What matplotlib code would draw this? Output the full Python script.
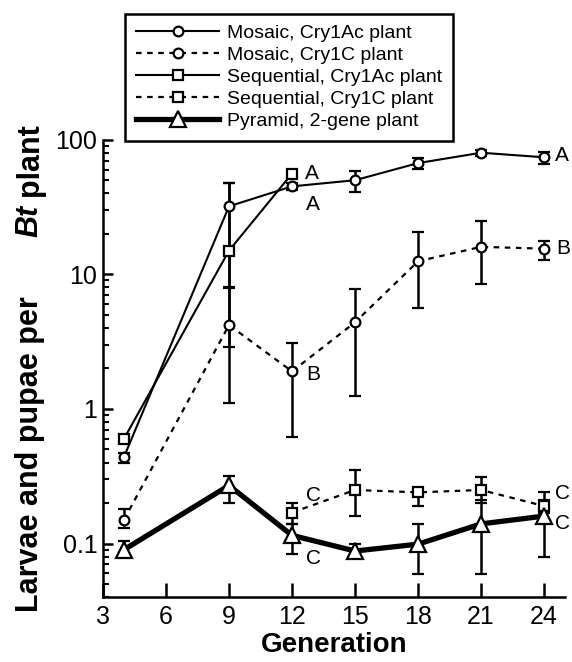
import matplotlib
matplotlib.use("Agg")
import matplotlib.pyplot as plt
from matplotlib.ticker import LogLocator, NullFormatter

plt.rcParams['font.family'] = ['Liberation Sans', 'DejaVu Sans']

# generations sampled
gens = [4, 9, 12, 15, 18, 21, 24]
seq_ac_gens = [4, 9, 12]
seq_c_gens = [12, 15, 18, 21, 24]

# Mosaic, Cry1Ac plant
mos_ac = [0.44, 32, 45, 50, 67, 80, 74]
mos_ac_lo = [0.40, 8.0, 42, 41, 61, 76, 66]
mos_ac_hi = [0.47, 48, 48, 59, 73, 84, 81]

# Mosaic, Cry1C plant
mos_c = [0.15, 4.2, 1.9, 4.4, 12.5, 16, 15.5]
mos_c_lo = [0.13, 1.1, 0.62, 1.25, 5.6, 8.4, 12.7]
mos_c_hi = [0.18, 7.9, 3.1, 7.8, 20.5, 25, 17.8]

# Sequential, Cry1Ac plant
seq_ac = [0.60, 15, 56]
seq_ac_lo = [0.56, 2.9, 53]
seq_ac_hi = [0.64, 48, 59]

# Sequential, Cry1C plant
seq_c = [0.17, 0.25, 0.24, 0.25, 0.19]
seq_c_lo = [0.14, 0.16, 0.19, 0.20, 0.17]
seq_c_hi = [0.20, 0.35, 0.26, 0.31, 0.24]

# Pyramid, 2-gene plant
pyr = [0.09, 0.27, 0.115, 0.088, 0.099, 0.14, 0.16]
pyr_lo = [0.079, 0.20, 0.084, 0.080, 0.059, 0.059, 0.080]
pyr_hi = [0.105, 0.32, 0.14, 0.099, 0.14, 0.21, 0.21]

# significance letters: (generation, value, letter)
letters = [
    (12, 56, "A"), (12, 45, "A"), (24, 74, "A"),
    (12, 1.9, "B"), (24, 15.5, "B"),
    (12, 0.17, "C"), (12, 0.115, "C"), (24, 0.19, "C"), (24, 0.16, "C"),
]
letter_offsets = [(9, 0), (10, -13), (8, 1), (10, -2), (9, 0),
                  (10, 12), (10, -17), (8, 9), (8, -5)]

x_ticks = [3, 6, 9, 12, 15, 18, 21, 24]
y_ticks = [0.1, 1, 10, 100]
y_tick_labels = ["0.1", "1", "10", "100"]


def err(vals, lo, hi):
    return [[v - l for v, l in zip(vals, lo)], [h - v for v, h in zip(vals, hi)]]


fig = plt.figure(figsize=(5.72, 6.62), dpi=100)
ax = fig.add_axes([0.180, 0.098, 0.808, 0.691])

ebkw = dict(ecolor='black', elinewidth=1.8, capsize=4.5, capthick=1.8)

h1 = ax.errorbar(gens, mos_ac, yerr=err(mos_ac, mos_ac_lo, mos_ac_hi), color='black',
                 lw=1.5, ls='-', marker='o', ms=7, mfc='white', mec='black', mew=1.6,
                 label='Mosaic, Cry1Ac plant', **ebkw)
h2 = ax.errorbar(gens, mos_c, yerr=err(mos_c, mos_c_lo, mos_c_hi), color='black',
                 lw=1.6, ls=(0, (2.5, 2.5)), marker='o', ms=7, mfc='white', mec='black', mew=1.6,
                 label='Mosaic, Cry1C plant', **ebkw)
h3 = ax.errorbar(seq_ac_gens, seq_ac, yerr=err(seq_ac, seq_ac_lo, seq_ac_hi), color='black',
                 lw=1.5, ls='-', marker='s', ms=6.5, mfc='white', mec='black', mew=1.6,
                 label='Sequential, Cry1Ac plant', **ebkw)
h4 = ax.errorbar(seq_c_gens, seq_c, yerr=err(seq_c, seq_c_lo, seq_c_hi), color='black',
                 lw=1.6, ls=(0, (2.5, 2.5)), marker='s', ms=6.5, mfc='white', mec='black', mew=1.6,
                 label='Sequential, Cry1C plant', **ebkw)
h5 = ax.errorbar(gens, pyr, yerr=err(pyr, pyr_lo, pyr_hi), color='black',
                 lw=3.8, ls='-', marker='^', ms=11, mfc='white', mec='black', mew=1.6,
                 label='Pyramid, 2-gene plant', **ebkw)

for (g, v, t), (dx, dy) in zip(letters, letter_offsets):
    ax.annotate(t, (g, v), xytext=(dx, dy), textcoords='offset points',
                ha='left', va='center', fontsize=15)

ax.set_yscale('log')
ax.set_xlim(3, 25)
ax.set_ylim(0.04, 100)
ax.set_xticks(x_ticks)
ax.set_yticks(y_ticks)
ax.set_yticklabels(y_tick_labels)
ax.yaxis.set_minor_locator(LogLocator(base=10, subs=range(2, 10)))
ax.yaxis.set_minor_formatter(NullFormatter())

for s in ['top', 'right']:
    ax.spines[s].set_visible(False)
for s in ['left', 'bottom']:
    ax.spines[s].set_linewidth(1.8)

ax.tick_params(axis='x', which='major', direction='in', length=10, width=1.8,
               labelsize=18, pad=6)
ax.tick_params(axis='y', which='major', direction='in', length=7, width=1.8,
               labelsize=18, pad=4)
ax.tick_params(axis='y', which='minor', direction='in', length=4, width=1.5)

ax.set_xlabel('Generation', fontsize=20, fontweight='bold', labelpad=2)

fig.text(0.052, 1 - 612 / 662, 'Larvae and pupae per', rotation=90, ha='center', va='bottom',
         fontsize=22, fontweight='bold')
fig.text(0.052, 1 - 237 / 662, 'Bt', rotation=90, ha='center', va='bottom',
         fontsize=22, fontweight='bold', fontstyle='italic')
fig.text(0.052, 1 - 196 / 662, 'plant', rotation=90, ha='center', va='bottom',
         fontsize=22, fontweight='bold')

handles = [h[0] for h in (h1, h2, h3, h4, h5)]
leg = fig.legend(handles=handles, labels=[h.get_label() for h in (h1, h2, h3, h4, h5)],
                 loc='upper left', bbox_to_anchor=(125 / 572, 1 - 14 / 662), borderaxespad=0,
                 fontsize=14, handlelength=4.3, handletextpad=0.4, labelspacing=0.22,
                 borderpad=0.55, fancybox=False, framealpha=1, edgecolor='black')
leg.get_frame().set_linewidth(1.8)

fig.savefig('out.png', dpi=100)
